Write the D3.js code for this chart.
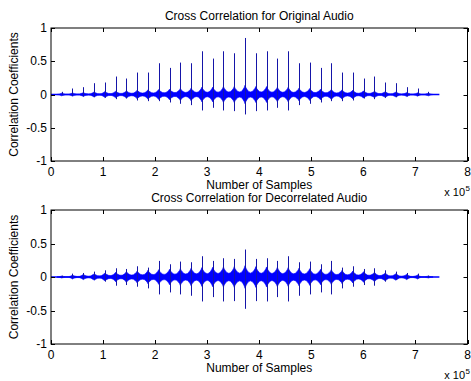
<!DOCTYPE html>
<html><head><meta charset="utf-8">
<script src="https://cdn.jsdelivr.net/npm/d3@7"></script>
<style>html,body{margin:0;padding:0;background:#fff;}svg{display:block;}</style>
</head><body>
<script>
// ---- data (x in units of 1e5 samples) ----
const xTicks = [0,1,2,3,4,5,6,7,8];
const yTicks = [-1,-0.5,0,0.5,1];
const yTickLabels = ["-1","-0.5","0","0.5","1"];
const titles = ["Cross Correlation for Original Audio","Cross Correlation for Decorrelated Audio"];
const xLabel = "Number of Samples";
const yLabel = "Correlation Coefficients";
const signalExtent = [0, 7.46];
const peakPos = [0.205,0.412,0.619,0.826,1.034,1.241,1.448,1.655,1.862,2.069,2.277,2.484,2.691,2.898,3.105,3.312,3.520,3.727,3.934,4.141,4.348,4.556,4.763,4.970,5.177,5.384,5.591,5.798,6.006,6.213,6.420,6.627,6.834,7.041,7.249];

// original audio
const origSpikeHi = [0.04,0.09,0.11,0.17,0.18,0.27,0.24,0.33,0.33,0.47,0.40,0.48,0.47,0.65,0.54,0.65,0.62,0.85,0.62,0.65,0.54,0.65,0.47,0.48,0.40,0.47,0.33,0.33,0.24,0.27,0.18,0.17,0.11,0.09,0.04];
const origSpikeLo = [-0.01,-0.02,-0.03,-0.04,-0.05,-0.07,-0.06,-0.09,-0.10,-0.10,-0.12,-0.14,-0.16,-0.24,-0.20,-0.24,-0.25,-0.30,-0.25,-0.24,-0.20,-0.24,-0.16,-0.14,-0.12,-0.10,-0.10,-0.09,-0.06,-0.07,-0.05,-0.04,-0.03,-0.02,-0.01];
const origBurst = [0.02,0.025,0.03,0.04,0.045,0.05,0.055,0.065,0.07,0.075,0.08,0.09,0.095,0.11,0.11,0.12,0.12,0.14,0.12,0.12,0.11,0.11,0.095,0.09,0.08,0.075,0.07,0.065,0.055,0.05,0.045,0.04,0.03,0.025,0.02];
const origGap = [0.005,0.008,0.01,0.013,0.016,0.019,0.022,0.025,0.028,0.031,0.034,0.036,0.038,0.04,0.042,0.044,0.046,0.046,0.044,0.042,0.04,0.038,0.036,0.034,0.031,0.028,0.025,0.022,0.019,0.016,0.013,0.01,0.008,0.005];

// decorrelated audio
const decSpikeHi = [0.02,0.05,0.06,0.08,0.10,0.13,0.12,0.16,0.14,0.24,0.19,0.23,0.22,0.31,0.24,0.28,0.27,0.41,0.27,0.28,0.24,0.31,0.22,0.23,0.19,0.24,0.14,0.16,0.12,0.13,0.10,0.08,0.06,0.05,0.02];
const decSpikeLo = [-0.01,-0.02,-0.03,-0.04,-0.07,-0.13,-0.12,-0.145,-0.17,-0.26,-0.23,-0.26,-0.28,-0.365,-0.30,-0.365,-0.36,-0.475,-0.36,-0.365,-0.30,-0.365,-0.28,-0.26,-0.23,-0.26,-0.17,-0.145,-0.12,-0.13,-0.07,-0.04,-0.03,-0.02,-0.01];
const decBurst = [0.015,0.03,0.04,0.05,0.06,0.07,0.08,0.09,0.10,0.11,0.115,0.125,0.13,0.14,0.145,0.15,0.155,0.17,0.155,0.15,0.145,0.14,0.13,0.125,0.115,0.11,0.10,0.09,0.08,0.07,0.06,0.05,0.04,0.03,0.015];
const decGap = [0.005,0.01,0.015,0.02,0.025,0.03,0.034,0.038,0.042,0.046,0.05,0.053,0.056,0.059,0.062,0.065,0.068,0.068,0.065,0.062,0.059,0.056,0.053,0.05,0.046,0.042,0.038,0.034,0.03,0.025,0.02,0.015,0.01,0.005];

const panels = [
  {title:titles[0], hi:origSpikeHi, lo:origSpikeLo, burst:origBurst, gap:origGap, top:28, bottom:161},
  {title:titles[1], hi:decSpikeHi, lo:decSpikeLo, burst:decBurst, gap:decGap, top:210, bottom:344}
];

const W = 471, H = 381;
const left = 51, right = 467.5;
const font = "'Liberation Sans', Arial, sans-serif";
const fs = 12;

const svg = d3.select("body").append("svg").attr("width", W).attr("height", H)
  .style("font-family", font);

const x = d3.scaleLinear().domain([0,8]).range([left, right]);

panels.forEach(p => {
  const y = d3.scaleLinear().domain([-1,1]).range([p.bottom, p.top]);
  const g = svg.append("g");

  // envelope points
  const pts = [];
  pts.push([peakPos[0]-0.09, 0.002]);
  peakPos.forEach((px, i) => {
    const b = p.burst[i];
    const gl = i > 0 ? p.gap[i-1] : 0.002;
    const gr = i < p.gap.length ? p.gap[i] : 0.002;
    pts.push([px-0.07, gl]);
    pts.push([px-0.04, gl + (b-gl)*0.3]);
    pts.push([px-0.015, gl + (b-gl)*0.65]);
    pts.push([px, b]);
    pts.push([px+0.015, gr + (b-gr)*0.65]);
    pts.push([px+0.04, gr + (b-gr)*0.3]);
    pts.push([px+0.07, gr]);
    if (i < p.gap.length) pts.push([(px+peakPos[i+1])/2, gr*0.85]);
  });
  pts.push([peakPos[peakPos.length-1]+0.09, 0.002]);

  const clip = "clip" + p.top;
  svg.append("clipPath").attr("id", clip).append("rect")
    .attr("x", left).attr("y", p.top).attr("width", right-left).attr("height", p.bottom-p.top);
  const plot = g.append("g").attr("clip-path", `url(#${clip})`);

  // baseline
  plot.append("line")
    .attr("x1", x(signalExtent[0])).attr("x2", x(signalExtent[1]))
    .attr("y1", y(0)).attr("y2", y(0))
    .attr("stroke", "#0000ff").attr("stroke-width", 1.3);

  // bursts envelope
  plot.append("path").datum(pts)
    .attr("d", d3.area().x(d => x(d[0])).y0(d => y(-d[1])).y1(d => y(d[1])))
    .attr("fill", "#0000ff").attr("stroke", "#0000ff").attr("stroke-width", 0.6);

  // spikes
  plot.selectAll("line.spike").data(peakPos).join("line").attr("class","spike")
    .attr("x1", d => Math.round(x(d))+0.5).attr("x2", d => Math.round(x(d))+0.5)
    .attr("y1", (d,i) => y(p.lo[i])).attr("y2", (d,i) => y(p.hi[i]))
    .attr("stroke", "#1515a8").attr("stroke-width", 1);

  // box
  g.append("rect").attr("x", left).attr("y", p.top)
    .attr("width", right-left).attr("height", p.bottom-p.top)
    .attr("fill", "none").attr("stroke", "#000").attr("stroke-width", 1);

  // ticks (inward, both sides)
  const tl = 4;
  xTicks.forEach(t => {
    const xx = Math.round(x(t))+0.5;
    g.append("line").attr("x1", xx).attr("x2", xx).attr("y1", p.bottom).attr("y2", p.bottom-tl).attr("stroke","#000");
    g.append("line").attr("x1", xx).attr("x2", xx).attr("y1", p.top).attr("y2", p.top+tl).attr("stroke","#000");
    g.append("text").attr("x", x(t)).attr("y", p.bottom+15).attr("text-anchor","middle")
      .attr("font-size", fs).text(t);
  });
  yTicks.forEach((t, i) => {
    const yy = Math.round(y(t))+0.5;
    g.append("line").attr("x1", left).attr("x2", left+tl).attr("y1", yy).attr("y2", yy).attr("stroke","#000");
    g.append("line").attr("x1", right).attr("x2", right-tl).attr("y1", yy).attr("y2", yy).attr("stroke","#000");
    g.append("text").attr("x", left-4).attr("y", y(t)+4).attr("text-anchor","end")
      .attr("font-size", fs).text(yTickLabels[i]);
  });

  // labels
  g.append("text").attr("x", (left+right)/2).attr("y", p.top-8).attr("text-anchor","middle")
    .attr("font-size", fs).text(p.title);
  g.append("text").attr("x", (left+right)/2).attr("y", p.bottom+28).attr("text-anchor","middle")
    .attr("font-size", fs).text(xLabel);
  g.append("text").attr("transform", `translate(18,${(p.top+p.bottom)/2}) rotate(-90)`)
    .attr("text-anchor","middle").attr("font-size", fs).text(yLabel);
  g.append("text").attr("x", 465).attr("y", p.bottom+35).attr("text-anchor","end")
    .attr("font-size", 11).text("x 10");
  g.append("text").attr("x", 465.5).attr("y", p.bottom+30).attr("font-size", 8).text("5");
});
</script>
</body></html>
